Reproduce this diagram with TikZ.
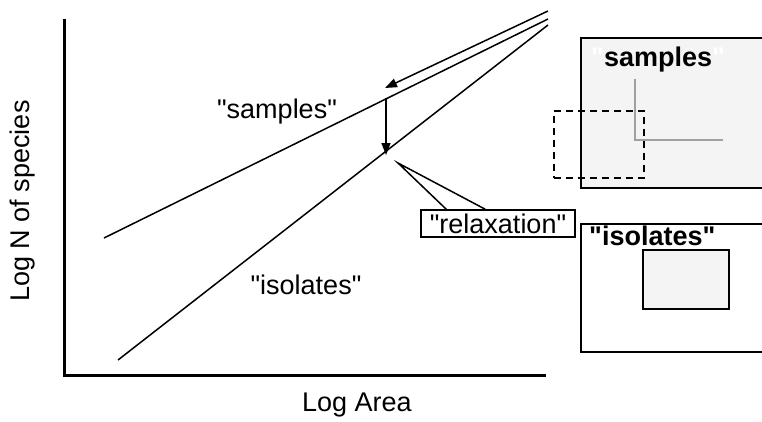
\documentclass[tikz,border=0pt]{standalone}
\usepackage{fontspec}
\setmainfont{Liberation Sans}[Ligatures=TeXOff]
\usetikzlibrary{arrows.meta,calc}
\definecolor{boxgray}{HTML}{F4F4F4}
\definecolor{lgray}{HTML}{A0A0A0}
\newcommand{\dq}{\char34\relax}
\tikzset{
  lbl/.style={inner sep=0pt,font=\fontsize{27}{31}\selectfont},
  blbl/.style={inner sep=0pt,font=\fontsize{27}{31}\selectfont\bfseries},
  axisline/.style={line width=3pt},
  trendline/.style={line width=1.5pt},
  arr/.style={line width=1.5pt,-{Triangle[length=12pt,width=9pt]}},
  panel/.style={draw=black,line width=1.5pt}
}
\begin{document}
\begin{tikzpicture}[x=1pt,y=-1pt]
\useasboundingbox (0,0) rectangle (762,421);
% axes
\coordinate (ytop) at (64,19);
\coordinate (origin) at (64,375);
\coordinate (xend) at (546,375);
\draw[axisline] (ytop) -- (origin) -- (xend);
% trend lines
\coordinate (s0) at (104,238);
\coordinate (s1) at (548,19);
\coordinate (i0) at (118,360);
\coordinate (i1) at (548,25);
\draw[trendline] (s0) -- (s1);
\draw[trendline] (i0) -- (i1);
% arrows
\coordinate (a0) at (548,11);
\coordinate (a1) at (385,88);
\draw[arr] (a0) -- (a1);
\coordinate (v0) at (386,98);
\coordinate (v1) at (386,155);
\draw[arr] (v0) -- (v1);
% labels
\node[lbl] (samp) at (277,112) {\dq samples\dq};
\node[lbl] (isol) at (306,285) {\dq isolates\dq};
\node[lbl] (xlab) at (357,405) {Log Area};
\node[lbl,rotate=90] (ylab) at (23,201) {Log N of species};
% callout
\node[lbl,draw,line width=1.5pt,minimum width=154pt,minimum height=27pt] (relax) at (498,223.5) {\dq relaxation\dq};
\coordinate (ctip) at (398,163);
\draw[line width=1.5pt] ($(relax.north west)+(26,0)$) -- (ctip) -- ($(relax.north west)+(65,0)$);
% top right panel
\node[panel,fill=boxgray,minimum width=192pt,minimum height=150pt,inner sep=0pt,anchor=north west] (ptop) at (580,37) {};
\node[blbl,anchor=west] (ptoplbl) at (591,60) {\textcolor{white}{\dq}samples\textcolor{white}{\dq}};
\coordinate (g0) at (635,79);
\coordinate (g1) at (635,140);
\coordinate (g2) at (723,140);
\draw[lgray,line width=1.5pt] (g0) -- (g1) -- (g2);
\node[draw,dashed,dash pattern=on 7pt off 5pt,line width=1.5pt,minimum width=90pt,minimum height=67pt,inner sep=0pt,anchor=north west] (dash) at (553,110) {};
% bottom right panel
\node[panel,fill=white,minimum width=192pt,minimum height=128pt,inner sep=0pt,anchor=north west] (pbot) at (580,223) {};
\node[panel,fill=boxgray,minimum width=86pt,minimum height=59pt,inner sep=0pt,anchor=north west] (inner) at (642,249) {};
\node[blbl,anchor=west] (pbotlbl) at (589,236) {\dq isolates\dq};
\end{tikzpicture}
\end{document}
